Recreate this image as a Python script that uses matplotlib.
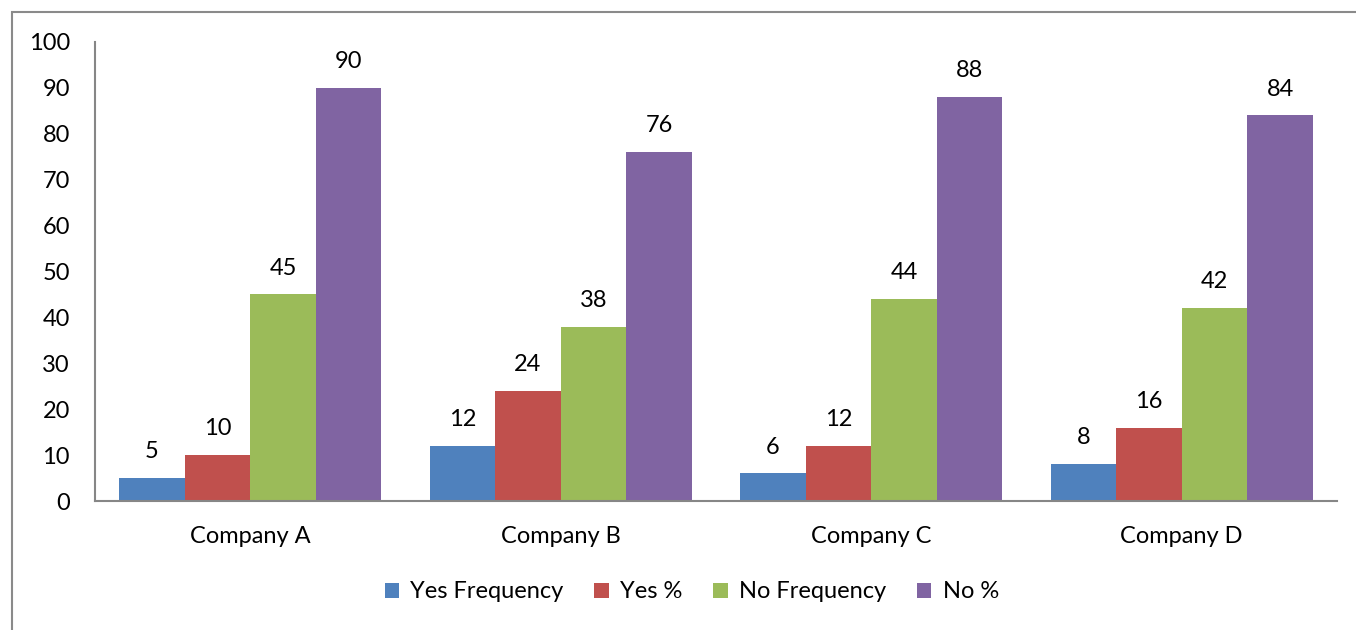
import matplotlib
matplotlib.use("Agg")
import matplotlib.pyplot as plt
from matplotlib.patches import Rectangle
import numpy as np

categories = ["Company A", "Company B", "Company C", "Company D"]
series_names = ["Yes Frequency", "Yes %", "No Frequency", "No %"]
yes_freq = [5, 12, 6, 8]
yes_pct = [10, 24, 12, 16]
no_freq = [45, 38, 44, 42]
no_pct = [90, 76, 88, 84]
y_ticks = [0, 10, 20, 30, 40, 50, 60, 70, 80, 90, 100]

colors = ["#4F81BD", "#C0504D", "#9BBB59", "#8064A2"]
plt.rcParams["font.family"] = ["Lato", "DejaVu Sans"]
FS = 17

W, H = 1356, 630
fig = plt.figure(figsize=(W / 100, H / 100), dpi=100)
ax = fig.add_axes([95 / W, 1 - 501 / H, (1337 - 95) / W, (501 - 42) / H])

# outer chart frame (only top and left edges fall inside the image)
fig.patches.append(Rectangle((12 / W, -0.1), 1.2, 1 - 12 / H + 0.1,
                             transform=fig.transFigure, fill=False,
                             edgecolor="#8a8a8a", linewidth=1.5))

x = np.arange(len(categories))
bw = 0.211
all_series = [yes_freq, yes_pct, no_freq, no_pct]
for i, (vals, name, c) in enumerate(zip(all_series, series_names, colors)):
    pos = x + (i - 1.5) * bw
    ax.bar(pos, vals, width=bw, color=c, label=name, edgecolor="none")
    for xb, v in zip(pos, vals):
        ax.annotate(str(v), (xb, v), xytext=(0, 19), textcoords="offset points",
                    ha="center", va="center", fontsize=FS, color="#000000")

ax.set_xlim(-0.5, len(categories) - 0.5)
ax.set_ylim(0, 100)
ax.set_yticks(y_ticks)
ax.set_xticks(x)
ax.set_xticklabels(categories)
ax.tick_params(axis="both", length=0, labelsize=FS, colors="#000000")
ax.tick_params(axis="y", pad=18)
ax.tick_params(axis="x", pad=18)
for s in ["top", "right"]:
    ax.spines[s].set_visible(False)
for s in ["left", "bottom"]:
    ax.spines[s].set_color("#868686")
    ax.spines[s].set_linewidth(1.5)

fig.legend(loc="center", bbox_to_anchor=(692 / W, 1 - 592 / H), ncol=4,
           frameon=False, fontsize=FS, handlelength=0.6, handleheight=0.6,
           handletextpad=0.5, columnspacing=1.3)

fig.savefig("out.png", dpi=100)
